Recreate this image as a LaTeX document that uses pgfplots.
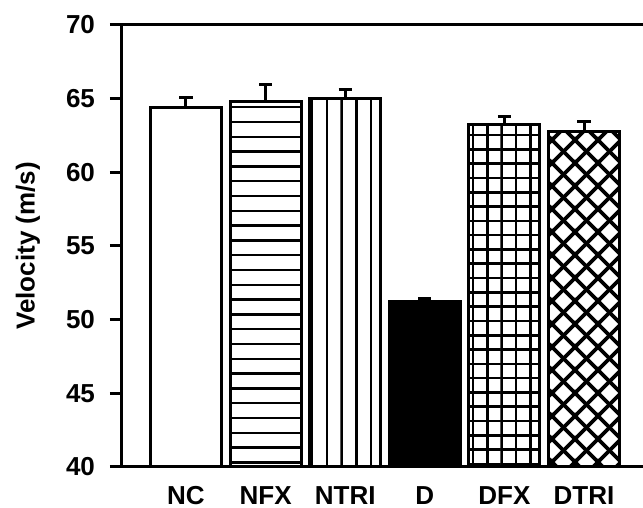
\documentclass[border=0pt]{standalone}
\usepackage{fontspec}
\setmainfont{Liberation Sans}
\usepackage{pgfplots}
\pgfplotsset{compat=1.18}
\usetikzlibrary{patterns.meta}

\tikzdeclarepattern{name=hl, bottom left={(-0.1pt,0pt)}, top right={(10.1pt,7.4pt)}, tile size={(10pt,7.4pt)},
  code={\fill (-0.1pt,0pt) rectangle (10.1pt,1.2pt);}}
\tikzdeclarepattern{name=vl, bottom left={(0pt,-0.1pt)}, top right={(7.4pt,10.1pt)}, tile size={(7.4pt,10pt)},
  code={\fill (0pt,-0.1pt) rectangle (1.2pt,10.1pt);}}
\tikzdeclarepattern{name=gr, bottom left={(-0.1pt,-0.1pt)}, top right={(7.25pt,7.25pt)}, tile size={(7.15pt,7.15pt)},
  code={\fill (-0.1pt,-0.1pt) rectangle (7.25pt,1.2pt); \fill (-0.1pt,-0.1pt) rectangle (1.2pt,7.25pt);}}
\tikzdeclarepattern{name=xh, bottom left={(-1.5pt,-1.5pt)}, top right={(13pt,13pt)}, tile size={(11.5pt,11.5pt)},
  code={\draw[line width=1.8pt] (-1.5pt,-1.5pt) -- (13pt,13pt); \draw[line width=1.8pt] (-1.5pt,13pt) -- (13pt,-1.5pt);}}

\begin{document}
\begin{tikzpicture}
\begin{axis}[
  scale only axis, width=260.5pt, height=221pt,
  xmin=-0.804, xmax=5.741, ymin=40, ymax=70,
  clip=false,
  axis line style={draw=none},
  ybar, bar width=0.89, bar shift=0pt,
  xtick={0,1,2,3,4,5}, xticklabels={NC,NFX,NTRI,D,DFX,DTRI},
  xtick style={draw=none},
  ytick={40,45,50,55,60,65,70}, ytick pos=left,
  tick align=outside, major tick length=6pt,
  ytick style={line width=1.5pt, black},
  /pgf/number format/assume math mode=true,
  tick label style={font=\bfseries\fontsize{13}{15}\selectfont, text=black},
  xticklabel style={anchor=base, inner sep=0pt, yshift=-12.8pt},
  yticklabel style={anchor=east, xshift=-4pt},
  ylabel={Velocity (m/s)},
  ylabel style={font=\bfseries\fontsize{13}{15}\selectfont, at={(axis description cs:-0.1804,0.5)}, anchor=center},
  every axis plot/.append style={line width=1.5pt, draw=black},
  error bars/y dir=plus, error bars/y explicit,
  error bars/error bar style={line width=1.5pt, black},
  error bars/error mark options={rotate=90, mark size=3.3pt, line width=1.5pt, black},
]
\addplot[fill=white] coordinates {(0,64.37) +- (0,0.73)};
\addplot[pattern=hl] coordinates {(1,64.84) +- (0,1.13)};
\addplot[pattern=vl] coordinates {(2,65.0) +- (0,0.65)};
\addplot[fill=black] coordinates {(3,51.26) +- (0,0.2)};
\addplot[pattern=gr] coordinates {(4,63.23) +- (0,0.55)};
\addplot[pattern=xh] coordinates {(5,62.8) +- (0,0.64)};
\draw[line width=1.5pt, line cap=rect] (rel axis cs:1,1) -- (rel axis cs:0,1) -- (rel axis cs:0,0) -- (rel axis cs:1,0);
\coordinate (bl) at (rel axis cs:0,0);
\coordinate (tr) at (rel axis cs:1,1);
\end{axis}
\pgfresetboundingbox
\path ([xshift=-61pt,yshift=-20.5pt]bl) rectangle ([yshift=12.5pt]tr);
\end{tikzpicture}
\end{document}
